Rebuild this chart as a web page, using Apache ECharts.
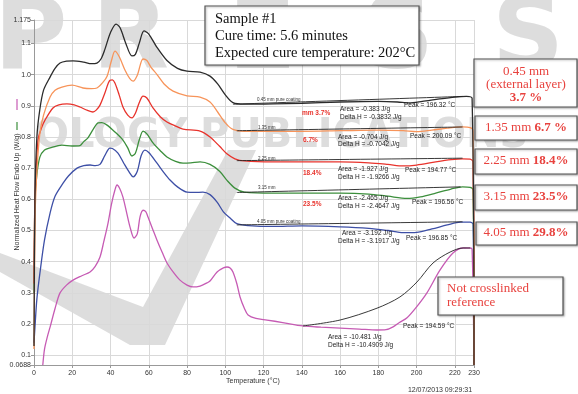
<!DOCTYPE html>
<html><head><meta charset="utf-8">
<script src="https://cdn.jsdelivr.net/npm/echarts@6/dist/echarts.min.js"></script>
<style>html,body{margin:0;padding:0;background:#fff}#c{width:578px;height:394px}</style>
</head><body><div id="c"></div>
<script>
// ---- tick labels ----
const xTicks = [0,20,40,60,80,100,120,140,160,180,200,220,230];
const yTicks = [0.0688,0.1,0.2,0.3,0.4,0.5,0.6,0.7,0.8,0.9,1.0,1.1,1.175];

// ---- curves: [temperature °C, normalized heat flow W/g] ----
const curve045 = [[0,0.13],[0.5,0.6],[1.5,0.8],[3,0.886],[5,0.95],[8.4,0.992],[11,1.02],[13.6,1.037],[17,1.043],[20.4,1.044],[26,1.04],[30,1.035],[32.9,1.037],[35,1.05],[37,1.08],[40,1.135],[42.9,1.162],[45,1.15],[48,1.1],[51.2,1.06],[53,1.065],[55,1.1],[57.5,1.14],[60,1.13],[64,1.09],[69.5,1.045],[75,1.02],[80,1.011],[86.8,1.008],[92,0.995],[96,0.97],[100,0.935],[104,0.91],[110,0.905],[125,0.906],[140,0.908],[160,0.912],[180,0.914],[190,0.912],[196,0.909],[203,0.914],[212,0.922],[220,0.928],[226,0.93],[229,0.924],[230,0.0688]];
const curve135 = [[0,0.12],[0.6,0.55],[1.6,0.7],[3.1,0.813],[5,0.87],[8.4,0.928],[11,0.95],[14.6,0.96],[19.9,0.966],[25.6,0.957],[30,0.955],[32.9,0.957],[36,0.975],[38.2,0.995],[40.5,1.045],[42.3,1.075],[44.5,1.058],[47.6,1.014],[50,0.988],[51.8,0.979],[54,0.998],[57,1.05],[59,1.045],[61,1.025],[64.3,1.0],[68,0.97],[72.7,0.947],[80,0.932],[86.8,0.928],[92,0.912],[96,0.88],[100,0.845],[104,0.824],[110,0.818],[125,0.818],[140,0.818],[160,0.82],[180,0.822],[193,0.82],[200,0.817],[208,0.822],[216,0.828],[224,0.832],[228,0.83],[229.5,0.82],[230,0.0688]];
const curve225 = [[0,0.33],[0.5,0.598],[2.1,0.79],[4,0.83],[5.75,0.854],[9.9,0.893],[13,0.903],[17.2,0.906],[21,0.903],[24,0.896],[28,0.885],[30.8,0.88],[32.5,0.886],[34.5,0.902],[37,0.94],[39.7,0.982],[41,0.983],[42.3,0.973],[44.5,0.935],[46.5,0.896],[49,0.87],[51.2,0.861],[53,0.876],[55,0.91],[57,0.931],[59,0.925],[62.2,0.893],[66,0.865],[69.5,0.848],[74,0.835],[77.9,0.825],[86.8,0.819],[92,0.8],[97,0.77],[101,0.745],[105,0.73],[110,0.723],[125,0.72],[140,0.72],[160,0.72],[175,0.717],[185,0.712],[193,0.707],[200,0.71],[210,0.72],[218,0.727],[224,0.73],[228,0.729],[229.5,0.72],[230,0.0688]];
const curve315 = [[0,0.3],[0.5,0.598],[1.5,0.68],[3.1,0.736],[5.5,0.758],[8.4,0.765],[14.6,0.774],[19.9,0.771],[24,0.772],[26,0.785],[28.2,0.797],[31,0.825],[33.5,0.845],[35.5,0.846],[38.2,0.838],[42.3,0.816],[46.5,0.79],[49,0.765],[51.2,0.739],[53,0.748],[55,0.79],[57,0.819],[59,0.81],[62.2,0.781],[66,0.756],[69.5,0.736],[74,0.722],[77.9,0.716],[82,0.717],[86.8,0.72],[92,0.712],[97,0.69],[101,0.66],[105,0.636],[110,0.623],[125,0.62],[140,0.62],[160,0.62],[175,0.617],[185,0.61],[195,0.603],[202,0.608],[210,0.62],[218,0.633],[224,0.64],[228,0.638],[229.5,0.63],[230,0.0688]];
const curve405 = [[0,0.14],[0.5,0.19],[1.5,0.28],[3.1,0.364],[5.5,0.47],[8.4,0.556],[11,0.61],[15.2,0.652],[18,0.675],[22.5,0.7],[26,0.708],[29.3,0.71],[32,0.708],[34.5,0.712],[37,0.74],[39.7,0.764],[41,0.763],[43.9,0.748],[47,0.715],[50,0.685],[51.8,0.672],[54,0.69],[56,0.74],[58,0.758],[60,0.75],[64.3,0.716],[68,0.685],[71.1,0.662],[75,0.64],[80,0.623],[84,0.622],[88.3,0.623],[92,0.615],[95.7,0.591],[99,0.56],[102.5,0.54],[106,0.522],[112,0.516],[125,0.513],[140,0.515],[160,0.512],[175,0.507],[185,0.5],[193,0.493],[200,0.494],[208,0.505],[216,0.518],[223,0.527],[228,0.527],[229.5,0.52],[230,0.0688]];
const curveRef = [[4.6,0.0688],[5.5,0.12],[7,0.16],[8.4,0.19],[11,0.25],[13.6,0.3],[17,0.325],[20.4,0.341],[25,0.355],[29.3,0.367],[32,0.385],[34.5,0.415],[36.5,0.465],[38.7,0.524],[40.5,0.585],[42.3,0.63],[43.4,0.646],[44.8,0.635],[46.5,0.607],[48.5,0.555],[50.2,0.511],[52.3,0.476],[54,0.49],[55.4,0.543],[57,0.565],[58.5,0.56],[59.6,0.543],[62,0.505],[64.3,0.469],[67,0.43],[69.5,0.396],[73,0.365],[76.3,0.341],[80,0.325],[83.1,0.319],[86.8,0.322],[90.4,0.332],[92,0.338],[95.7,0.367],[99,0.38],[100.9,0.383],[102.5,0.38],[104,0.367],[106,0.33],[107.7,0.287],[110,0.25],[111.9,0.229],[116,0.218],[121.8,0.213],[130,0.205],[140.6,0.194],[150,0.19],[160,0.187],[170,0.184],[179.3,0.181],[184,0.182],[187.7,0.191],[191,0.205],[195,0.22],[200,0.255],[205.4,0.3],[212.2,0.373],[219,0.428],[224.3,0.444],[227.9,0.444],[229,0.44],[230,0.0688]];

// ---- integration baselines ----
const base045 = [[104,0.905],[224,0.93]];
const base135 = [[106,0.82],[224,0.832]];
const base225 = [[106,0.724],[224,0.732]];
const base315 = [[106,0.622],[223,0.64]];
const base405 = [[106,0.518],[224,0.528]];
const baseRef = [[140.6,0.194],[160,0.213],[179.3,0.251],[191.3,0.287],[200.2,0.335],[208.6,0.396],[217.5,0.431],[224.3,0.444],[228,0.444]];

const colors = {c045:'#2b2b2b', c135:'#f7945a', c225:'#e8332c', c315:'#3c8f3c', c405:'#3d4fa6', ref:'#c65bb4'};

const chart = echarts.init(document.getElementById('c'), null, {renderer:'canvas'});

function curveSeries(name, data, color){
  return {type:'line', name, data, showSymbol:false, smooth:0.3,
    lineStyle:{color, width:1.3}, itemStyle:{color}, z:3, clip:true};
}
function baseSeries(data){
  return {type:'line', data, showSymbol:false, smooth:0.3, lineStyle:{color:'#222', width:0.9}, z:4, silent:true};
}

const serif = '"Liberation Serif", "DejaVu Serif", serif';
const sans = '"Liberation Sans", Arial, sans-serif';
const red = '#e8423e';
const wm = '#d2d2d2';

function txt(text, x, y, opts){
  return Object.assign({type:'text', z:20, style:Object.assign({text, x, y, font:'6.5px '+sans, fill:'#222', align:'left', verticalAlign:'middle'}, opts||{})});
}
function wmTxt(text, x, y, size, align){
  return {type:'text', z:0, silent:true, style:{text, x, y, font:'bold '+size+'px "DejaVu Sans"', fill:wm, opacity:0.75, align:align||'left', verticalAlign:'middle'}};
}
function box(x,y,w,h){
  return {type:'rect', z:18, shape:{x,y,width:w,height:h}, style:{fill:'#fff', stroke:'#555', lineWidth:1.2, shadowBlur:2, shadowColor:'rgba(0,0,0,0.3)', shadowOffsetX:1, shadowOffsetY:1}};
}

const graphics = [
  // watermark
  {type:'polygon', z:0, silent:true, shape:{points:[[0,253],[143,307],[228,150],[256,150],[165,345],[130,345],[0,272]]}, style:{fill:wm, opacity:0.75}},
  wmTxt('P', -6, 42, 100), wmTxt('R', 92, 42, 100), wmTxt('E', 228, 42, 100), wmTxt('S', 362, 42, 100), wmTxt('S', 492, 42, 100),
  wmTxt('OLOGY', 188, 137, 40, 'right'),
  wmTxt('PUBLICATIONS', 200, 137, 40),
  // title box
  box(205,6,214,59),
  txt('Sample #1', 215, 19, {font:'14.5px '+serif, fill:'#111'}),
  txt('Cure time: 5.6 minutes', 215, 36, {font:'14.5px '+serif, fill:'#111'}),
  txt('Expected cure temperature: 202°C', 215, 53, {font:'14.5px '+serif, fill:'#111'}),
  // right boxes
  box(474,59,103,48),
  txt('0.45 mm', 526, 72, {font:'13px '+serif, fill:red, align:'center'}),
  txt('(external layer)', 526, 85, {font:'13px '+serif, fill:red, align:'center'}),
  txt('3.7 %', 526, 98, {font:'bold 13px '+serif, fill:red, align:'center'}),
  box(475,116,102,24),
  txt('{n|1.35 mm }{b|6.7 %}', 526, 128, {align:'center', rich:{n:{font:'13px '+serif, fill:red}, b:{font:'bold 13px '+serif, fill:red}}}),
  box(475,149,102,25),
  txt('{n|2.25 mm }{b|18.4%}', 526, 161, {align:'center', rich:{n:{font:'13px '+serif, fill:red}, b:{font:'bold 13px '+serif, fill:red}}}),
  box(475,185,102,25),
  txt('{n|3.15 mm }{b|23.5%}', 526, 197, {align:'center', rich:{n:{font:'13px '+serif, fill:red}, b:{font:'bold 13px '+serif, fill:red}}}),
  box(476,222,101,23),
  txt('{n|4.05 mm }{b|29.8%}', 526, 233, {align:'center', rich:{n:{font:'13px '+serif, fill:red}, b:{font:'bold 13px '+serif, fill:red}}}),
  box(438,277,125,38),
  txt('Not crosslinked', 447, 289, {font:'13px '+serif, fill:red}),
  txt('reference', 447, 303, {font:'13px '+serif, fill:red}),
  // small curve tags
  txt('0.45 mm pure coating', 257, 100, {font:'4.5px '+sans, fill:'#333'}),
  txt('1.35 mm', 258, 128, {font:'4.5px '+sans, fill:'#333'}),
  txt('2.25 mm', 258, 159, {font:'4.5px '+sans, fill:'#333'}),
  txt('3.15 mm', 258, 188, {font:'4.5px '+sans, fill:'#333'}),
  txt('4.05 mm pure coating', 257, 222, {font:'4.5px '+sans, fill:'#333'}),
  // red percent labels
  txt('mm 3.7%', 302, 113, {font:'bold 6.5px '+sans, fill:'#e8332c'}),
  txt('6.7%', 303, 140, {font:'bold 6.5px '+sans, fill:'#e8332c'}),
  txt('18.4%', 303, 173, {font:'bold 6.5px '+sans, fill:'#e8332c'}),
  txt('23.5%', 303, 204, {font:'bold 6.5px '+sans, fill:'#e8332c'}),
  // area / peak annotations
  txt('Area = -0.383 J/g', 340, 109), txt('Delta H = -0.3832 J/g', 340, 117),
  txt('Peak = 196.32 °C', 404, 105),
  txt('Area = -0.704 J/g', 338, 137), txt('Delta H = -0.7042 J/g', 338, 144),
  txt('Peak = 200.09 °C', 410, 136),
  txt('Area = -1.927 J/g', 338, 169), txt('Delta H = -1.9266 J/g', 338, 177),
  txt('Peak = 194.77 °C', 405, 170),
  txt('Area = -2.465 J/g', 338, 198), txt('Delta H = -2.4647 J/g', 338, 206),
  txt('Peak = 196.56 °C', 412, 202),
  txt('Area = -3.192 J/g', 342, 233), txt('Delta H = -3.1917 J/g', 338, 241),
  txt('Peak = 196.85 °C', 406, 238),
  txt('Peak = 194.59 °C', 403, 326),
  txt('Area = -10.481 J/g', 328, 337), txt('Delta H = -10.4909 J/g', 328, 345),
  // axis names and stamp
  txt('Temperature (°C)', 253, 381, {font:'7px '+sans, fill:'#333', align:'center'}),
  txt('12/07/2013 09:29:31', 440, 390, {font:'7px '+sans, fill:'#333', align:'center'}),
  {type:'text', z:20, x:17, y:192, rotation:Math.PI/2, style:{text:'Normalized Heat Flow Endo Up (W/g)', x:0, y:0, font:'7px '+sans, fill:'#333', align:'center', verticalAlign:'middle'}},
  {type:'line', z:20, shape:{x1:17, y1:99, x2:17, y2:110}, style:{stroke:colors.ref, lineWidth:1.2}},
  {type:'line', z:20, shape:{x1:17, y1:122, x2:17, y2:130}, style:{stroke:colors.c315, lineWidth:1.2}}
];

chart.setOption({
  animation:false,
  backgroundColor:'#fff',
  grid:{left:34, right:104, top:20, bottom:29, containLabel:false, outerBoundsMode:'none'},
  xAxis:{type:'value', min:0, max:230, interval:20, z:2,
    axisLine:{show:true, lineStyle:{color:'#999', width:1}},
    axisTick:{show:true, length:3, lineStyle:{color:'#999'}},
    axisLabel:{fontSize:7, color:'#333', fontFamily:sans, margin:5},
    splitLine:{show:true, lineStyle:{color:'#d9d9d9', width:1}}},
  yAxis:{type:'value', min:0.0688, max:1.175, z:2,
    axisLine:{show:true, lineStyle:{color:'#999', width:1}},
    axisTick:{show:true, length:3, lineStyle:{color:'#999'}, customValues:yTicks},
    axisLabel:{fontSize:7, color:'#333', fontFamily:sans, margin:3, customValues:yTicks,
      formatter:function(v){ if(Math.abs(v-0.0688)<1e-6) return '0.0688'; if(Math.abs(v-1.175)<1e-6) return '1.175'; return v.toFixed(1);} },
    splitLine:{show:true, lineStyle:{color:'#d9d9d9', width:1}}},
  series:[
    curveSeries('Not crosslinked reference', curveRef, colors.ref),
    curveSeries('4.05 mm', curve405, colors.c405),
    curveSeries('3.15 mm', curve315, colors.c315),
    curveSeries('2.25 mm', curve225, colors.c225),
    curveSeries('1.35 mm', curve135, colors.c135),
    curveSeries('0.45 mm', curve045, colors.c045),
    baseSeries(base045), baseSeries(base135), baseSeries(base225), baseSeries(base315), baseSeries(base405), baseSeries(baseRef)
  ],
  graphic:graphics
});
</script></body></html>
